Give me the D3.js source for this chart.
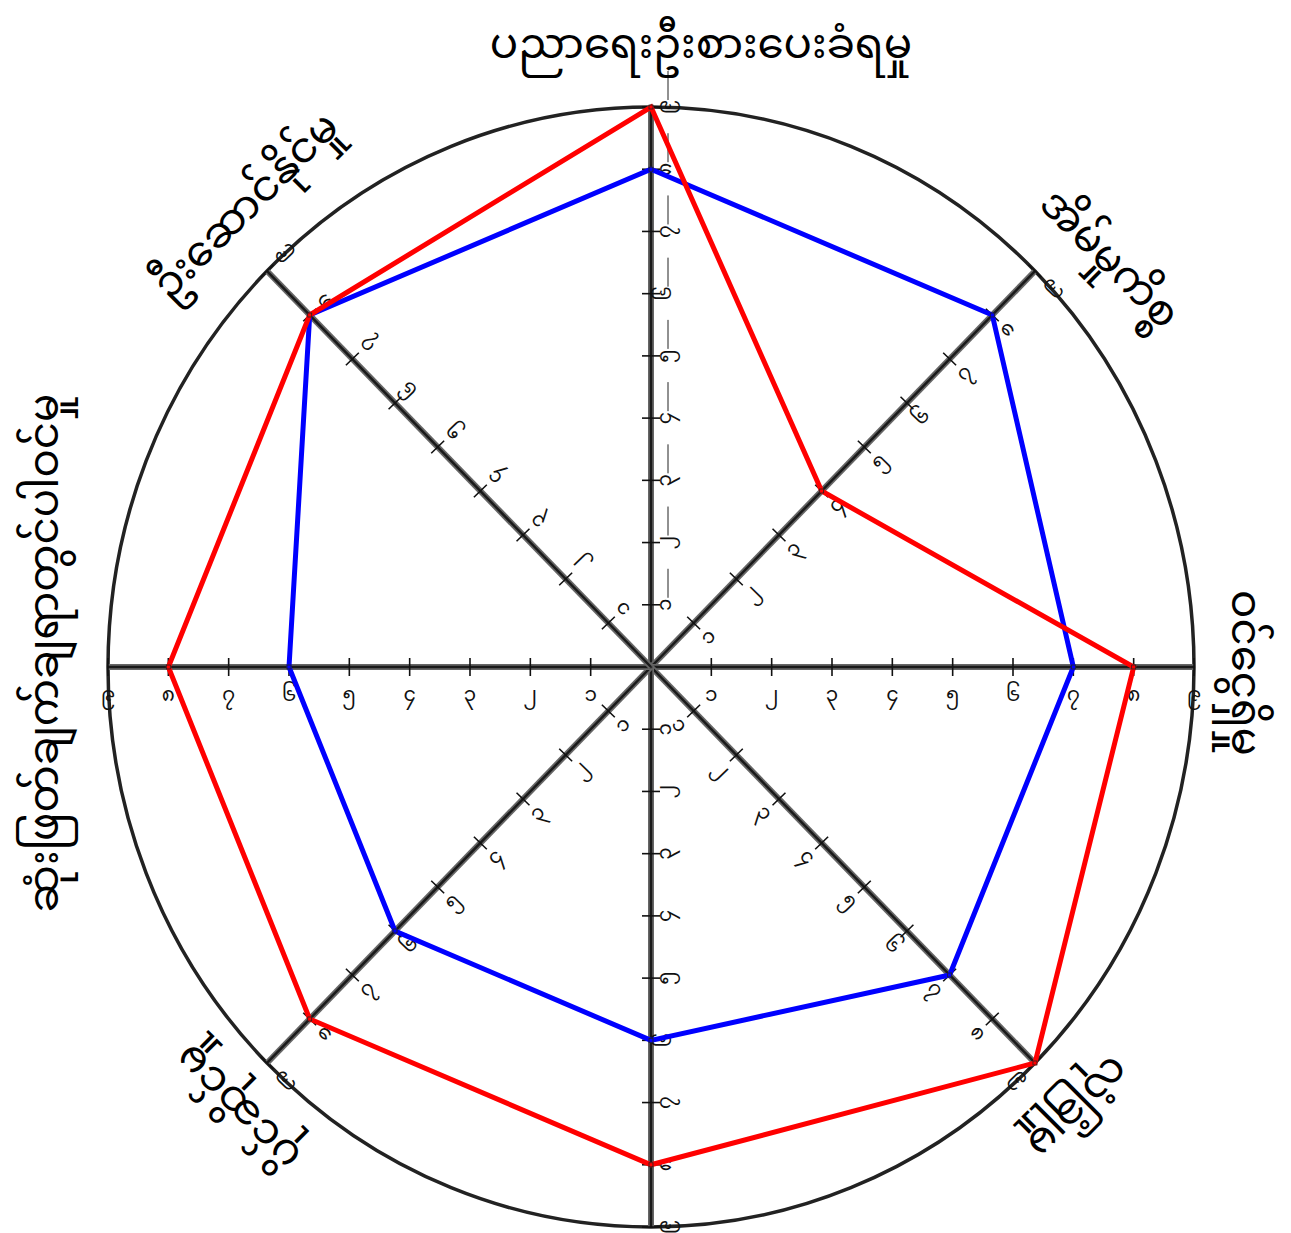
<!DOCTYPE html>
<html>
<head>
<meta charset="utf-8">
<title>radar</title>
<script src="https://cdn.jsdelivr.net/npm/d3@7/dist/d3.min.js"></script>
<style>
  body { margin: 0; background: #fff; }
  svg { display: block; }
  text { font-family: "Noto Sans Myanmar", "Myanmar Text", "Padauk", "Pyidaungsu", "Noto Sans", sans-serif; }
</style>
</head>
<body>
<script>
// axis names, clockwise from the top
var categories = [
  "ပညာရေးဦးစားပေးခံရမှု",
  "အိမ်မှုကိစ္စ",
  "ဝင်ငွေရှိမှု",
  "လုံခြုံမှု",
  "လွတ်လပ်မှု",
  "ပိုင်ဆိုင်မှု",
  "ဆုံးဖြတ်ချက်ချရာတွင်ပါဝင်မှု",
  "ဦးဆောင်နိုင်မှု"
];
var redValues  = [9, 4, 8, 9, 8, 8, 8, 8];
var blueValues = [8, 8, 7, 7, 6, 6, 6, 8];
var tickValues = [1, 2, 3, 4, 5, 6, 7, 8, 9];
var tickLabels = ["၁", "၂", "၃", "၄", "၅", "၆", "၇", "၈", "၉"];

var width = 1291, height = 1233,
    cx = 651, cy = 667, rx = 543, ry = 560;

var svg = d3.select("body").append("svg")
    .attr("width", width)
    .attr("height", height);

var r = d3.scaleLinear().domain([0, 9]).range([0, 1]);
var angle = d3.scaleLinear().domain([0, categories.length]).range([-Math.PI / 2, Math.PI * 1.5]);

function pt(i, v) {
    var a = angle(i);
    return [cx + rx * r(v) * Math.cos(a), cy + ry * r(v) * Math.sin(a)];
}
// unit direction of axis i on screen
function dir(i) {
    var e = pt(i, 9), dx = e[0] - cx, dy = e[1] - cy, l = Math.sqrt(dx * dx + dy * dy);
    return [dx / l, dy / l];
}

// outer ring
svg.append("ellipse")
    .attr("cx", cx).attr("cy", cy)
    .attr("rx", rx).attr("ry", ry)
    .attr("fill", "none")
    .attr("stroke", "#222")
    .attr("stroke-width", 3.5);

// spokes, ticks, tick labels
var axisG = svg.append("g");
categories.forEach(function (c, i) {
    var e = pt(i, 9);
    axisG.append("line")
        .attr("x1", cx).attr("y1", cy).attr("x2", e[0]).attr("y2", e[1])
        .attr("stroke", "#666").attr("stroke-width", 6);
    axisG.append("line")
        .attr("x1", cx).attr("y1", cy).attr("x2", e[0]).attr("y2", e[1])
        .attr("stroke", "#1a1a1a").attr("stroke-width", 2.5);

    var d = dir(i), n = [-d[1], d[0]];
    var deg = Math.atan2(d[1], d[0]) * 180 / Math.PI;
    var rot = deg > 89 ? deg - 180 : deg;
    var rad = rot * Math.PI / 180;
    var dist = 22 + 7 * Math.cos(2 * rad);
    var off = [-dist * Math.sin(rad), dist * Math.cos(rad)];

    tickValues.forEach(function (v, k) {
        var p = pt(i, v);
        axisG.append("line")
            .attr("x1", p[0] - 9 * n[0]).attr("y1", p[1] - 9 * n[1])
            .attr("x2", p[0] + 9 * n[0]).attr("y2", p[1] + 9 * n[1])
            .attr("stroke", "#111").attr("stroke-width", 1.6);
        axisG.append("text")
            .attr("transform", "translate(" + (p[0] + off[0]) + "," + (p[1] + off[1]) + ") rotate(" + rot + ")")
            .attr("text-anchor", "middle")
            .attr("dominant-baseline", "central")
            .attr("font-size", 20)
            .attr("fill", "#111")
            .text(tickLabels[k]);
        // thin guide strokes beside the labels of the vertical axis
        if (i === 0) {
            axisG.append("line")
                .attr("x1", cx + 17).attr("y1", p[1] - 36)
                .attr("x2", cx + 17).attr("y2", p[1] - 7)
                .attr("stroke", "#222").attr("stroke-width", 1);
        }
    });
});

// category names (the bottom one falls outside the picture)
var nudge  = [50, 45, 6, 0, 0, -10, 14, 30];   // along the text
var push   = [0, 0, -9, 0, 0, -10, 3, 0];      // away from the centre
svg.append("g").selectAll("text")
    .data(categories).enter()
    .filter(function (c, i) { return pt(i, 9 * 1.105)[1] < height; })
    .append("text")
    .attr("transform", function (c) {
        var i = categories.indexOf(c);
        var a = angle(i), p = pt(i, 9 * 1.105), d = dir(i);
        var t = [-Math.sin(a), Math.cos(a)];
        var x = p[0] + t[0] * nudge[i] + d[0] * push[i],
            y = p[1] + t[1] * nudge[i] + d[1] * push[i];
        return "translate(" + x + "," + y + ") rotate(" + (a * 180 / Math.PI + 90) + ")";
    })
    .attr("text-anchor", "middle")
    .attr("dominant-baseline", "central")
    .attr("font-size", 42)
    .attr("fill", "#000")
    .text(function (c) { return c; });

// series
var line = d3.line().curve(d3.curveLinearClosed);
function drawSeries(vals, color) {
    var pts = vals.map(function (v, i) { return pt(i, v); });
    svg.append("path")
        .attr("d", line(pts))
        .attr("fill", "none")
        .attr("stroke", color)
        .attr("stroke-width", 5)
        .attr("stroke-linejoin", "miter");
    svg.append("g").selectAll("rect")
        .data(pts).enter().append("rect")
        .attr("x", function (p) { return p[0] - 2; })
        .attr("y", function (p) { return p[1] - 2; })
        .attr("width", 4).attr("height", 4)
        .attr("fill", "none")
        .attr("stroke", "#222")
        .attr("stroke-width", 0.8);
}
drawSeries(blueValues, "#0000ff");
drawSeries(redValues, "#ff0000");
</script>
</body>
</html>
